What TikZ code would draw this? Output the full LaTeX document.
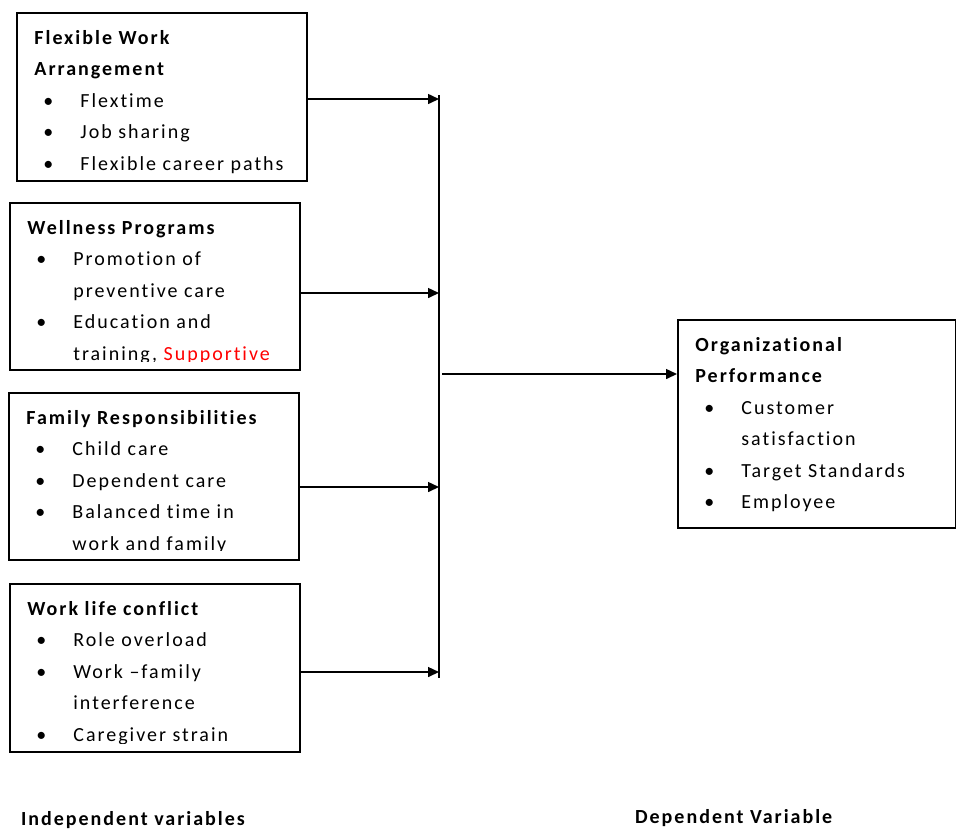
\documentclass[tikz,border=0pt]{standalone}
\usepackage{fontspec}
\setmainfont{Carlito}[LetterSpace=10, Ligatures=NoCommon]
\usetikzlibrary{arrows.meta,positioning}
\definecolor{ink}{RGB}{0,0,0}
\definecolor{alert}{RGB}{255,0,0}
\newcommand{\bul}[1]{\hspace*{4.5pt}\makebox[18.5pt][l]{\textbullet}#1}
\newcommand{\cont}[1]{\hspace*{23pt}#1}
\newcommand{\head}[1]{\rule{0pt}{16pt}\textbf{#1}}
\tikzset{
    line cap=butt,
    varbox/.style={
        rectangle,
        draw=ink,
        line width=0.75pt,
        anchor=north west,
        inner sep=0pt
    },
    boxtext/.style={
        anchor=north west,
        align=left,
        inner xsep=9pt,
        inner ysep=0pt,
        font=\fontsize{10}{15.7}\selectfont,
        text=ink
    },
    feed/.style={
        -{Triangle[length=5.5pt,width=5pt]},
        draw=ink,
        line width=0.75pt
    },
    bus/.style={
        draw=ink,
        line width=0.75pt
    },
    caption/.style={
        anchor=west,
        font=\bfseries\fontsize{10}{12}\selectfont,
        text=ink
    }
}
\begin{document}
\begin{tikzpicture}[x=0.5pt, y=-0.5pt]
\useasboundingbox (0,0) rectangle (956,832);

% Independent variable boxes
\node[varbox, minimum width=145pt, minimum height=84pt] (fwa) at (16,12) {};
\node[varbox, minimum width=145pt, minimum height=83.5pt] (wel) at (9,202) {};
\node[varbox, minimum width=145pt, minimum height=83.5pt] (fam) at (8,392) {};
\node[varbox, minimum width=145pt, minimum height=84pt] (wlc) at (9,583) {};

% Dependent variable box
\node[varbox, minimum width=139pt, minimum height=104pt] (orgp) at (677,319) {};

% Box contents (cut off a little above the box edge)
\begin{scope}
\clip (fwa.north west) rectangle ([yshift=3pt]fwa.south east);
\node[boxtext] (fwatext) at (fwa.north west) {\head{Flexible Work}\\
\textbf{Arrangement}\\
\bul{Flextime}\\
\bul{Job sharing}\\
\bul{Flexible career paths}};
\end{scope}

\begin{scope}
\clip (wel.north west) rectangle ([yshift=4.5pt]wel.south east);
\node[boxtext] (weltext) at (wel.north west) {\head{Wellness Programs}\\
\bul{Promotion of}\\
\cont{preventive care}\\
\bul{Education and}\\
\cont{training, \textcolor{alert}{Supportive}}};
\end{scope}

\begin{scope}
\clip (fam.north west) rectangle ([yshift=5pt]fam.south east);
\node[boxtext] (famtext) at (fam.north west) {\head{Family Responsibilities}\\
\bul{Child care}\\
\bul{Dependent care}\\
\bul{Balanced time in}\\
\cont{work and family}};
\end{scope}

\begin{scope}
\clip (wlc.north west) rectangle ([yshift=4.5pt]wlc.south east);
\node[boxtext] (wlctext) at (wlc.north west) {\head{Work life conflict}\\
\bul{Role overload}\\
\bul{Work --family}\\
\cont{interference}\\
\bul{Caregiver strain}};
\end{scope}

\begin{scope}
\clip (orgp.north west) rectangle (orgp.south east);
\node[boxtext] (orgptext) at (orgp.north west) {\head{Organizational}\\
\textbf{Performance}\\
\bul{Customer}\\
\cont{satisfaction}\\
\bul{Target Standards}\\
\bul{Employee}};
\end{scope}

% Collecting line
\coordinate (bustop) at (439,95);
\coordinate (busbot) at (439,678);
\coordinate (j1) at (439,99);
\coordinate (j2) at (439,293);
\coordinate (j3) at (439,487);
\coordinate (j4) at (439,672);
\coordinate (jout) at (442,374);

\draw[bus] (bustop) -- (busbot);
\draw[feed] (fwa.east |- j1) -- (j1);
\draw[feed] (wel.east |- j2) -- (j2);
\draw[feed] (fam.east |- j3) -- (j3);
\draw[feed] (wlc.east |- j4) -- (j4);
\draw[feed] (jout) -- (orgp.west |- jout);

% Captions
\node[caption] (indep) at (14,820) {Independent variables};
\node[caption] (dep) at (628,818) {Dependent Variable};

\end{tikzpicture}
\end{document}
